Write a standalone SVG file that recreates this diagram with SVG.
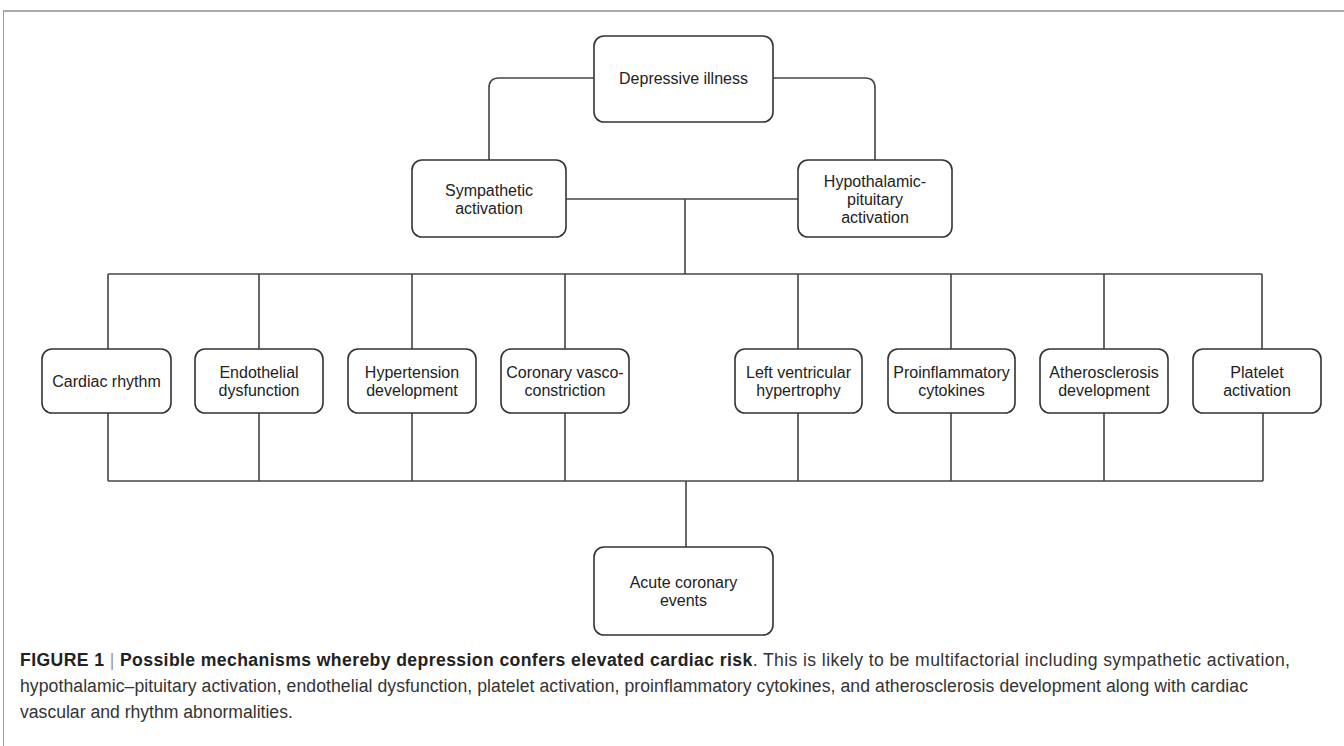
<svg xmlns="http://www.w3.org/2000/svg" width="1344" height="746" viewBox="0 0 1344 746">
<style>
.node rect{fill:#fff;stroke:#333;stroke-width:1.6}
.node text{font-family:"Liberation Sans",Arial,sans-serif;font-size:16px;fill:#222;text-anchor:middle}
#connectors path{fill:none;stroke:#444;stroke-width:1.6}
.cap{font-family:"Liberation Sans",Arial,sans-serif;font-size:17.6px;fill:#333}
.b{font-weight:bold;fill:#222}
.bar{fill:#999}
</style>
<rect width="1344" height="746" fill="#fff"/>
<g id="frame">
<line x1="3" y1="11" x2="1344" y2="11" stroke="#aaa" stroke-width="2"/>
<line x1="3.5" y1="11" x2="3.5" y2="746" stroke="#999" stroke-width="1"/>
</g>
<g id="connectors">
<path d="M594,78 H499 Q489,78 489,88 V160"/>
<path d="M773,78 H865 Q875,78 875,88 V160"/>
<path d="M566,199 H798"/>
<path d="M685,199 V274"/>
<path d="M108,274 H1262"/>
<path d="M108,274 V349 M259,274 V349 M412,274 V349 M565,274 V349 M798,274 V349 M951,274 V349 M1104,274 V349 M1262,274 V349"/>
<path d="M108,413 V481 M259,413 V481 M412,413 V481 M565,413 V481 M798,413 V481 M951,413 V481 M1104,413 V481 M1263,413 V481"/>
<path d="M108,481 H1263"/>
<path d="M686,481 V547"/>
</g>
<g id="depressive" class="node"><rect x="594" y="36" width="179" height="86" rx="10"/><text x="683.5" y="84">Depressive illness</text></g>
<g id="sympathetic" class="node"><rect x="412" y="160" width="154" height="77" rx="10"/><text x="489" y="196">Sympathetic</text><text x="489" y="214">activation</text></g>
<g id="hpa" class="node"><rect x="798" y="160" width="154" height="77" rx="10"/><text x="875" y="187">Hypothalamic-</text><text x="875" y="205">pituitary</text><text x="875" y="223">activation</text></g>
<g id="cardiac" class="node"><rect x="42" y="349" width="129" height="64" rx="10"/><text x="106.5" y="387">Cardiac rhythm</text></g>
<g id="endothelial" class="node"><rect x="195" y="349" width="128" height="64" rx="10"/><text x="259" y="378">Endothelial</text><text x="259" y="396">dysfunction</text></g>
<g id="hypertension" class="node"><rect x="348" y="349" width="128" height="64" rx="10"/><text x="412" y="378">Hypertension</text><text x="412" y="396">development</text></g>
<g id="coronary" class="node"><rect x="501" y="349" width="128" height="64" rx="10"/><text x="565" y="378">Coronary vasco-</text><text x="565" y="396">constriction</text></g>
<g id="lvh" class="node"><rect x="735" y="349" width="127" height="64" rx="10"/><text x="798.5" y="378">Left ventricular</text><text x="798.5" y="396">hypertrophy</text></g>
<g id="cytokines" class="node"><rect x="888" y="349" width="127" height="64" rx="10"/><text x="951.5" y="378">Proinflammatory</text><text x="951.5" y="396">cytokines</text></g>
<g id="atherosclerosis" class="node"><rect x="1040" y="349" width="128" height="64" rx="10"/><text x="1104" y="378">Atherosclerosis</text><text x="1104" y="396">development</text></g>
<g id="platelet" class="node"><rect x="1193" y="349" width="128" height="64" rx="10"/><text x="1257" y="378">Platelet</text><text x="1257" y="396">activation</text></g>
<g id="acute" class="node"><rect x="594" y="547" width="179" height="88" rx="10"/><text x="683.5" y="588">Acute coronary</text><text x="683.5" y="606">events</text></g>
<g id="caption">
<text class="cap" x="20" y="666" textLength="1270" lengthAdjust="spacing"><tspan class="b">FIGURE 1</tspan> <tspan class="bar">|</tspan> <tspan class="b">Possible mechanisms whereby depression confers elevated cardiac risk</tspan>. This is likely to be multifactorial including sympathetic activation,</text>
<text class="cap" x="20" y="692" textLength="1228" lengthAdjust="spacing">hypothalamic–pituitary activation, endothelial dysfunction, platelet activation, proinflammatory cytokines, and atherosclerosis development along with cardiac</text>
<text class="cap" x="20" y="718">vascular and rhythm abnormalities.</text>
</g>
</svg>
